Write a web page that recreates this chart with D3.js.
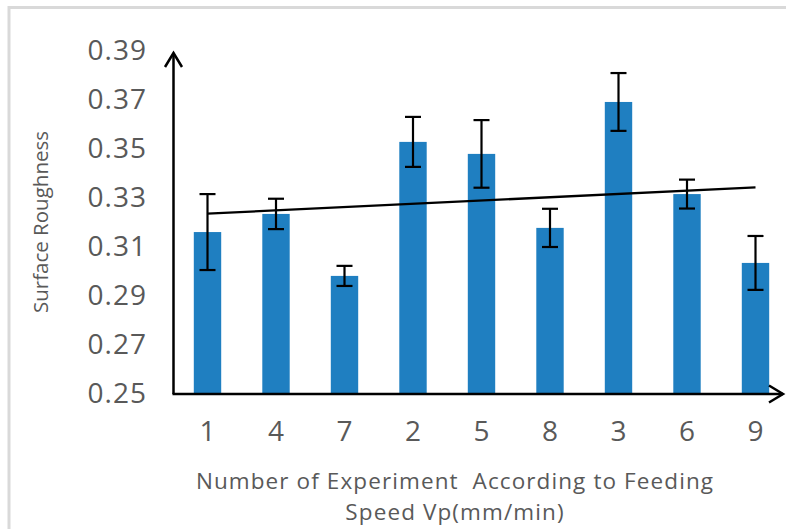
<!DOCTYPE html>
<html>
<head>
<meta charset="utf-8">
<script src="https://cdn.jsdelivr.net/npm/d3@7"></script>
<style>
  html, body { margin: 0; padding: 0; background: #fff; }
  svg { display: block; }
</style>
</head>
<body>
<svg id="chart" width="786" height="529"></svg>
<script>
// Experiment order along the x axis (grouped by feeding speed)
const experiments = ["1", "4", "7", "2", "5", "8", "3", "6", "9"];
// Mean surface roughness per experiment
const roughness = [0.3161, 0.3235, 0.2982, 0.3529, 0.3480, 0.3178, 0.3692, 0.3316, 0.3035];
// Error bar half-width per experiment
const errors = [0.0155, 0.0062, 0.0041, 0.0102, 0.0138, 0.0078, 0.0118, 0.0059, 0.0110];
// Y axis tick values
const yTicks = [0.25, 0.27, 0.29, 0.31, 0.33, 0.35, 0.37, 0.39];

const svg = d3.select("#chart");
const W = 786, H = 529;
const textColor = "#595959";
const barColor = "#1f7fc1";
const tickFont = "'Open Sans', 'Noto Sans', sans-serif";

// Outer chart-area frame (light grey, open to the right/bottom edges)
svg.append("path")
  .attr("d", `M9,${H} L9,7.5 L${W},7.5`)
  .attr("fill", "none")
  .attr("stroke", "#d9d9d9")
  .attr("stroke-width", 3);

const x = d3.scaleBand()
  .domain(experiments)
  .range([173.25, 789.75])
  .paddingInner(0.6)
  .paddingOuter(0.3);

const y = d3.scaleLinear()
  .domain([0.25, 0.39])
  .range([394, 51]);

// Bars
svg.append("g").selectAll("rect")
  .data(experiments)
  .join("rect")
  .attr("x", d => x(d))
  .attr("y", (d, i) => y(roughness[i]))
  .attr("width", x.bandwidth())
  .attr("height", (d, i) => y(0.25) - y(roughness[i]))
  .attr("fill", barColor);

// Linear trend line (least squares over experiment position)
const n = roughness.length;
const idx = d3.range(1, n + 1);
const mx = d3.mean(idx), my = d3.mean(roughness);
const slope = d3.sum(idx, (v, k) => (v - mx) * (roughness[k] - my)) / d3.sum(idx, v => (v - mx) ** 2);
const fit = i => my + slope * (i - mx);
svg.append("line")
  .attr("x1", x(experiments[0]) + x.bandwidth() / 2)
  .attr("y1", y(fit(1)))
  .attr("x2", x(experiments[n - 1]) + x.bandwidth() / 2)
  .attr("y2", y(fit(n)))
  .attr("stroke", "#000")
  .attr("stroke-width", 2.3);

// Error bars
const eb = svg.append("g").attr("stroke", "#000").attr("stroke-width", 2.2);
experiments.forEach((d, i) => {
  const cx = x(d) + x.bandwidth() / 2;
  const top = y(roughness[i] + errors[i]);
  const bot = y(roughness[i] - errors[i]);
  eb.append("line").attr("x1", cx).attr("x2", cx).attr("y1", top).attr("y2", bot);
  eb.append("line").attr("x1", cx - 8).attr("x2", cx + 8).attr("y1", top).attr("y2", top);
  eb.append("line").attr("x1", cx - 8).attr("x2", cx + 8).attr("y1", bot).attr("y2", bot);
});

// Y axis: tick labels only, through d3.axisLeft
const yAxis = svg.append("g")
  .attr("transform", "translate(173,0)")
  .call(d3.axisLeft(y).tickValues(yTicks).tickFormat(d3.format(".2f")).tickSize(0).tickPadding(26));
yAxis.select(".domain").remove();
yAxis.selectAll("text")
  .attr("fill", textColor)
  .style("font-family", tickFont)
  .style("font-size", "28px")
  .style("letter-spacing", "1px");

// X axis: tick labels only, through d3.axisBottom
const xAxis = svg.append("g")
  .attr("transform", "translate(0,394)")
  .call(d3.axisBottom(x).tickSize(0).tickPadding(27));
xAxis.select(".domain").remove();
xAxis.selectAll("text")
  .attr("fill", textColor)
  .style("font-family", tickFont)
  .style("font-size", "28px");

// Axis lines with arrow heads
const axisG = svg.append("g").attr("stroke", "#000").attr("fill", "none");
axisG.append("path")
  .attr("d", `M173.5,${y(0.25)} L173.5,53`)
  .attr("stroke-width", 2.5);
axisG.append("path")
  .attr("d", "M165,67 L173.5,53 L182,67")
  .attr("stroke-width", 2.5);
axisG.append("path")
  .attr("d", `M172.5,${y(0.25)} L783,${y(0.25)}`)
  .attr("stroke-width", 2.5);
axisG.append("path")
  .attr("d", `M769,${y(0.25) - 8.5} L783,${y(0.25)} L769,${y(0.25) + 8.5}`)
  .attr("stroke-width", 2.5);

// Axis titles
svg.append("text")
  .attr("transform", "translate(48,222) rotate(-90)")
  .attr("text-anchor", "middle")
  .attr("fill", textColor)
  .style("font-family", tickFont)
  .style("font-size", "20.5px")
  .text("Surface Roughness");

const titleStyle = t => t
  .attr("text-anchor", "middle")
  .attr("fill", textColor)
  .style("font-family", tickFont)
  .style("font-size", "22.5px")
  .style("letter-spacing", "1.1px")
  .style("white-space", "pre");
svg.append("text").call(titleStyle)
  .attr("x", 455).attr("y", 489)
  .text("Number of Experiment  According to Feeding");
svg.append("text").call(titleStyle)
  .attr("x", 455).attr("y", 520)
  .text("Speed Vp(mm/min)");
</script>
</body>
</html>
